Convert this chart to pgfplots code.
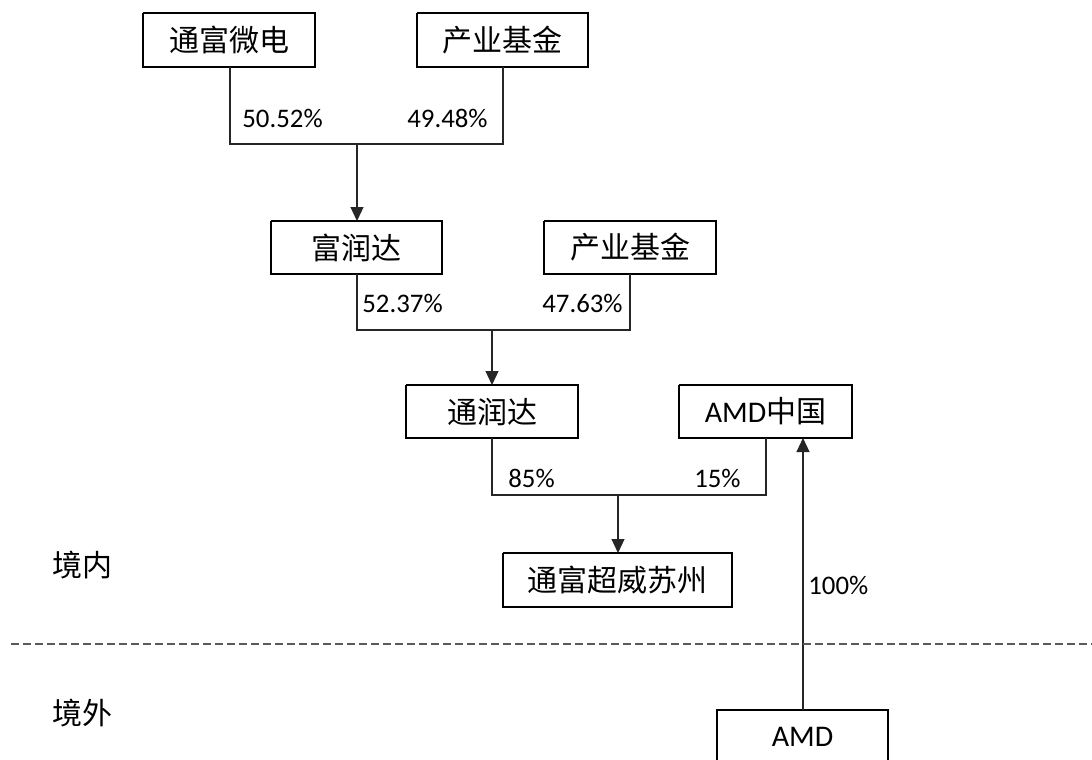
\documentclass[border=0pt]{standalone}
\usepackage{fontspec}
\setmainfont{Carlito}
\newfontfamily\cjk{Noto Sans CJK SC}
\usepackage{pgfplots}
\pgfplotsset{compat=1.18}
\usetikzlibrary{arrows.meta}
\tikzset{
  boxline/.style={black, line width=0.75bp},
  conn/.style={black!85, line width=0.55bp},
  arr/.style={black!85, line width=0.55bp, -{Triangle[length=7bp,width=6.5bp]}},
  boxtxt/.style={font=\fontsize{15bp}{18bp}\selectfont, inner sep=0pt},
  pct/.style={font=\fontsize{13.4bp}{16bp}\selectfont, inner sep=0pt},
}
\begin{document}
\begin{tikzpicture}
\useasboundingbox (0,0) rectangle (546bp,380bp);
\begin{axis}[
  at={(0,0)}, anchor=south west,
  scale only axis, width=546bp, height=380bp,
  xmin=0, xmax=1092, ymin=0, ymax=760, y dir=reverse,
  hide axis, clip=true,
]
% boxes
\addplot[boxline] coordinates {(143,13) (315,13) (315,67) (143,67) (143,13)};
\addplot[boxline] coordinates {(417,13) (588,13) (588,67) (417,67) (417,13)};
\addplot[boxline] coordinates {(271,221) (442,221) (442,274) (271,274) (271,221)};
\addplot[boxline] coordinates {(544,221) (716,221) (716,274) (544,274) (544,221)};
\addplot[boxline] coordinates {(406,385) (578,385) (578,438) (406,438) (406,385)};
\addplot[boxline] coordinates {(679,385) (852,385) (852,438) (679,438) (679,385)};
\addplot[boxline] coordinates {(503,553) (732,553) (732,607) (503,607) (503,553)};
\addplot[boxline] coordinates {(717,780) (717,710) (888,710) (888,780)};
% connectors
\addplot[conn] coordinates {(230,67) (230,144) (503,144) (503,67)};
\addplot[arr] coordinates {(357,144) (357,221)};
\addplot[conn] coordinates {(357,274) (357,330) (630,330) (630,274)};
\addplot[arr] coordinates {(492,330) (492,385)};
\addplot[conn] coordinates {(492,438) (492,495) (766,495) (766,438)};
\addplot[arr] coordinates {(618,495) (618,553)};
\addplot[arr] coordinates {(803,710) (803,438)};
% border line
\addplot[black!65, line width=0.75bp, dash pattern=on 4bp off 2bp] coordinates {(11,644) (1092,644)};
% box texts
\node[boxtxt] at (axis cs:229,40) {\cjk 通富微电};
\node[boxtxt] at (axis cs:502.5,40) {\cjk 产业基金};
\node[boxtxt] at (axis cs:356.5,247.5) {\cjk 富润达};
\node[boxtxt] at (axis cs:630,247.5) {\cjk 产业基金};
\node[boxtxt] at (axis cs:492,411.5) {\cjk 通润达};
\node[boxtxt] at (axis cs:765.5,411.5) {AMD{\cjk 中国}};
\node[boxtxt] at (axis cs:617.5,580) {\cjk 通富超威苏州};
\node[boxtxt] at (axis cs:802.5,737) {AMD};
% percentages
\node[pct, anchor=west] at (axis cs:242,118) {50.52\%};
\node[pct, anchor=east] at (axis cs:488,118) {49.48\%};
\node[pct, anchor=west] at (axis cs:362,303) {52.37\%};
\node[pct, anchor=east] at (axis cs:623,303) {47.63\%};
\node[pct, anchor=west] at (axis cs:508,478) {85\%};
\node[pct, anchor=east] at (axis cs:741,478) {15\%};
\node[pct, anchor=west] at (axis cs:808,585) {100\%};
% region labels
\node[boxtxt] at (axis cs:82,565) {\cjk 境内};
\node[boxtxt] at (axis cs:82,713) {\cjk 境外};
\end{axis}
\end{tikzpicture}
\end{document}
